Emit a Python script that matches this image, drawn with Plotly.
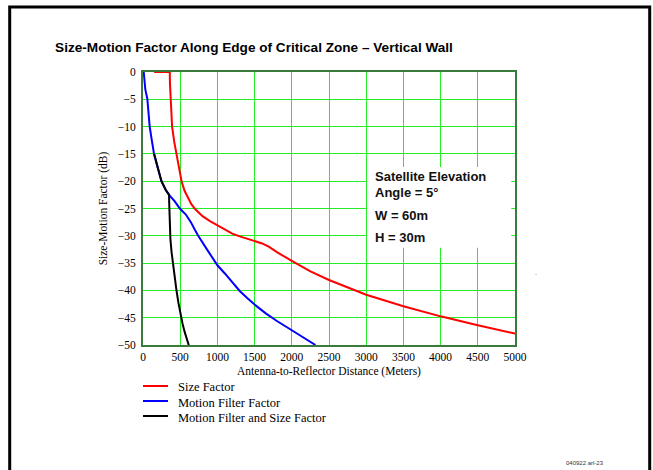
import plotly.graph_objects as go

# ---- data ----
size_x = [150, 360, 362, 373, 391, 420, 450, 485, 518, 560, 600, 650, 700, 800, 900, 1000, 1100, 1200, 1300,
          1400, 1500, 1600, 1690, 1800, 2000, 2250, 2500, 2750, 3000, 3500, 4000, 4500, 5000]
size_y = [0, 0, -2, -5, -10, -12.8, -15, -17.6, -20, -21.8, -23.0, -24.2, -25.1, -26.4, -27.3, -28.1, -28.9,
          -29.6, -30.1, -30.5, -30.9, -31.4, -32.0, -33.0, -34.6, -36.5, -38.1, -39.5, -40.8, -42.9, -44.75,
          -46.4, -47.9]

motion_x = [10, 31, 58, 76, 90, 117, 148, 193, 248, 306, 351, 427, 495, 576, 643, 697, 742, 855, 967,
            1000, 1100, 1200, 1300, 1400, 1500, 1650, 1800, 2000, 2318]
motion_y = [0, -3.2, -4.9, -7.5, -10, -12.4, -15, -17.3, -20, -21.6, -22.5, -23.7, -25, -26.1, -27.5,
            -28.9, -30, -32.4, -34.8, -35.4, -36.9, -38.6, -40.1, -41.4, -42.6, -44.2, -45.6, -47.3, -50]

both_x = [150, 193, 248, 306, 350, 352, 358, 369, 384, 400, 425, 450, 475, 500, 530, 560, 590, 621]
both_y = [-15, -17.3, -20, -21.6, -22.5, -24, -27, -30.7, -33, -35, -37.6, -40, -42.2, -44.1, -46, -47.6,
          -49, -50.3]

x_ticks = [0, 500, 1000, 1500, 2000, 2500, 3000, 3500, 4000, 4500, 5000]
y_ticks = [0, -5, -10, -15, -20, -25, -30, -35, -40, -45, -50]

series_names = ["Size Factor", "Motion Filter Factor", "Motion Filter and Size Factor"]
series_colors = ["#ff0000", "#0000ff", "#000000"]

title = "Size-Motion Factor Along Edge of Critical Zone \u2013 Vertical Wall"
note_lines = ["Satellite Elevation", "Angle = 5\u00b0", "W = 60m", "H = 30m"]

SERIF = "Liberation Serif"
SANS = "Liberation Sans"

# plot-area geometry in pixels (layout only)
L, R, T, B = 143, 515, 72, 345
PW, PH = R - L, B - T


def px(xp):
    return (xp - L) / PW


def py(yp):
    return (B - yp) / PH


fig = go.Figure()
for xs, ys, name, col in zip([size_x, motion_x, both_x], [size_y, motion_y, both_y],
                             series_names, series_colors):
    fig.add_trace(go.Scatter(x=xs, y=ys, mode="lines", name=name,
                             line=dict(color=col, width=2), showlegend=False))

axis_common = dict(showgrid=True, gridcolor="#22ee22", gridwidth=1,
                   showline=True, linecolor="#3a7a3a", linewidth=2, mirror=True,
                   zeroline=False, ticks="", layer="below traces",
                   tickfont=dict(family=SERIF, size=11.5, color="black"))

fig.update_xaxes(range=[0, 5000], tickvals=x_ticks, ticklabelstandoff=0,
                 title=dict(text="Antenna-to-Reflector Distance (Meters)",
                            font=dict(family=SERIF, size=11.5, color="black"), standoff=5),
                 **axis_common)
fig.update_yaxes(range=[-50, 0], tickvals=y_ticks, ticklabelstandoff=3,
                 title=dict(text="Size-Motion Factor (dB)",
                            font=dict(family=SERIF, size=11.5, color="black"), standoff=8),
                 **axis_common)

# white box behind the note (covers gridlines)
fig.add_shape(type="rect", xref="x", yref="y", x0=3011, x1=4950, y0=-32.2, y1=-17.4,
              fillcolor="white", line=dict(width=0), layer="between")

note_y = [-19.2, -22.0, -26.2, -30.4]
for txt, yy in zip(note_lines, note_y):
    fig.add_annotation(x=3091, y=yy, xref="x", yref="y", text="<b>" + txt + "</b>",
                       showarrow=False, xanchor="left", yanchor="middle",
                       font=dict(family=SANS, size=13, color="#111111"))

# legend (drawn as layout items to keep the reference's tight row spacing)
for i, (name, col) in enumerate(zip(series_names, series_colors)):
    yrow = 386 + 15 * i
    fig.add_shape(type="line", xref="paper", yref="paper", x0=px(143), x1=px(168),
                  y0=py(yrow), y1=py(yrow), line=dict(color=col, width=2))
    fig.add_annotation(xref="paper", yref="paper", x=px(176), y=py(yrow + 1.5), text=name,
                       showarrow=False, xanchor="left", yanchor="middle",
                       font=dict(family=SERIF, size=12.5, color="black"))

# outer frame
fig.add_shape(type="rect", xref="paper", yref="paper",
              x0=px(9.7), x1=px(649.7), y0=py(490), y1=py(7),
              line=dict(color="black", width=3), fillcolor="rgba(0,0,0,0)")

fig.add_annotation(xref="paper", yref="paper", x=px(585), y=py(463),
                   text="040922 arl-23", showarrow=False, xanchor="center", yanchor="middle",
                   font=dict(family=SANS, size=6, color="#333333"))
fig.add_annotation(xref="paper", yref="paper", x=px(536), y=py(272),
                   text=".", showarrow=False, xanchor="center", yanchor="middle",
                   font=dict(family=SANS, size=7, color="#555555"))

fig.update_layout(
    width=653, height=470,
    margin=dict(l=L, r=653 - R, t=T, b=470 - B),
    paper_bgcolor="white", plot_bgcolor="white",
    title=dict(text="<b>" + title + "</b>", x=254 / 653, xanchor="center",
               y=1 - 47 / 470, yanchor="middle", xref="container", yref="container",
               font=dict(family=SANS, size=13.6, color="black")),
    showlegend=False,
)

fig.write_html("out.html")
